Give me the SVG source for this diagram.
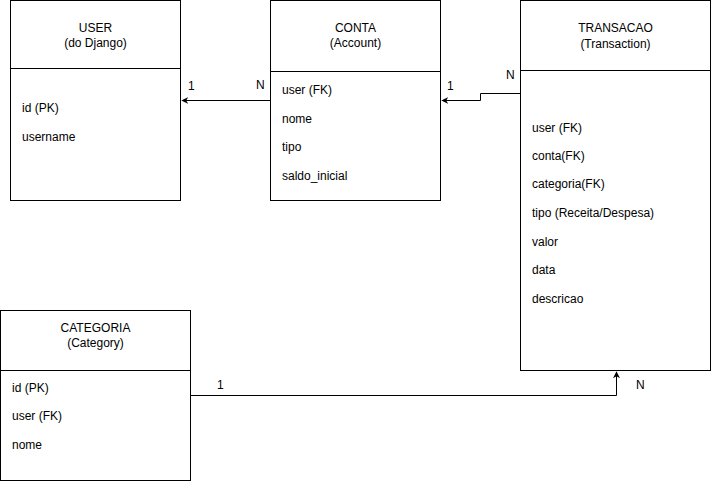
<svg xmlns="http://www.w3.org/2000/svg" width="712" height="481" viewBox="0 0 712 481">
<style>
.box{fill:#fff;stroke:#000;stroke-width:1}
.div{stroke:#000;stroke-width:1}
text{font-family:"Liberation Sans",Arial,sans-serif;font-size:12px;fill:#000}
.c{text-anchor:middle}
.e{fill:none;stroke:#000;stroke-width:1}
</style>
<defs>
<marker id="arr" viewBox="0 0 10 10" refX="9" refY="5" markerWidth="7" markerHeight="7" markerUnits="userSpaceOnUse" orient="auto">
<path d="M0,0 L10,5 L0,10 L3,5 Z" fill="#000"/>
</marker>
</defs>
<g id="edges">
<path class="e" d="M270.5,100.5 H182" marker-end="url(#arr)"/>
<text x="188" y="90">1</text>
<text x="256" y="89">N</text>
<path class="e" d="M520.5,93.5 H480.5 V100.5 H442" marker-end="url(#arr)"/>
<text x="447" y="90">1</text>
<text x="506" y="79">N</text>
<path class="e" d="M190.5,395.5 H616.5 V372" marker-end="url(#arr)"/>
<text x="217" y="389">1</text>
<text x="636" y="389">N</text>
</g>
<g id="user">
<rect class="box" x="10.5" y="0.5" width="170" height="200"/>
<line class="div" x1="10.5" y1="68.5" x2="180.5" y2="68.5"/>
<text class="c" x="95.5" y="32">USER</text>
<text class="c" x="95.5" y="47">(do Django)</text>
<text x="22" y="112">id (PK)</text>
<text x="22" y="141">username</text>
</g>
<g id="conta">
<rect class="box" x="270.5" y="0.5" width="170" height="200"/>
<line class="div" x1="270.5" y1="71.5" x2="440.5" y2="71.5"/>
<text class="c" x="355.5" y="32">CONTA</text>
<text class="c" x="355.5" y="47">(Account)</text>
<text x="282" y="94">user (FK)</text>
<text x="282" y="123">nome</text>
<text x="282" y="151">tipo</text>
<text x="282" y="180">saldo_inicial</text>
</g>
<g id="transacao">
<rect class="box" x="520.5" y="0.5" width="190" height="370"/>
<line class="div" x1="520.5" y1="70.5" x2="710.5" y2="70.5"/>
<text class="c" x="615.5" y="32">TRANSACAO</text>
<text class="c" x="615.5" y="48">(Transaction)</text>
<text x="532" y="132">user (FK)</text>
<text x="532" y="160">conta(FK)</text>
<text x="532" y="188">categoria(FK)</text>
<text x="532" y="217">tipo (Receita/Despesa)</text>
<text x="532" y="246">valor</text>
<text x="532" y="274">data</text>
<text x="532" y="303">descricao</text>
</g>
<g id="categoria">
<rect class="box" x="0.5" y="310.5" width="190" height="170"/>
<line class="div" x1="0.5" y1="370.5" x2="190.5" y2="370.5"/>
<text class="c" x="95.5" y="332">CATEGORIA</text>
<text class="c" x="95.5" y="347">(Category)</text>
<text x="12" y="392">id (PK)</text>
<text x="12" y="420">user (FK)</text>
<text x="12" y="449">nome</text>
</g>
</svg>
